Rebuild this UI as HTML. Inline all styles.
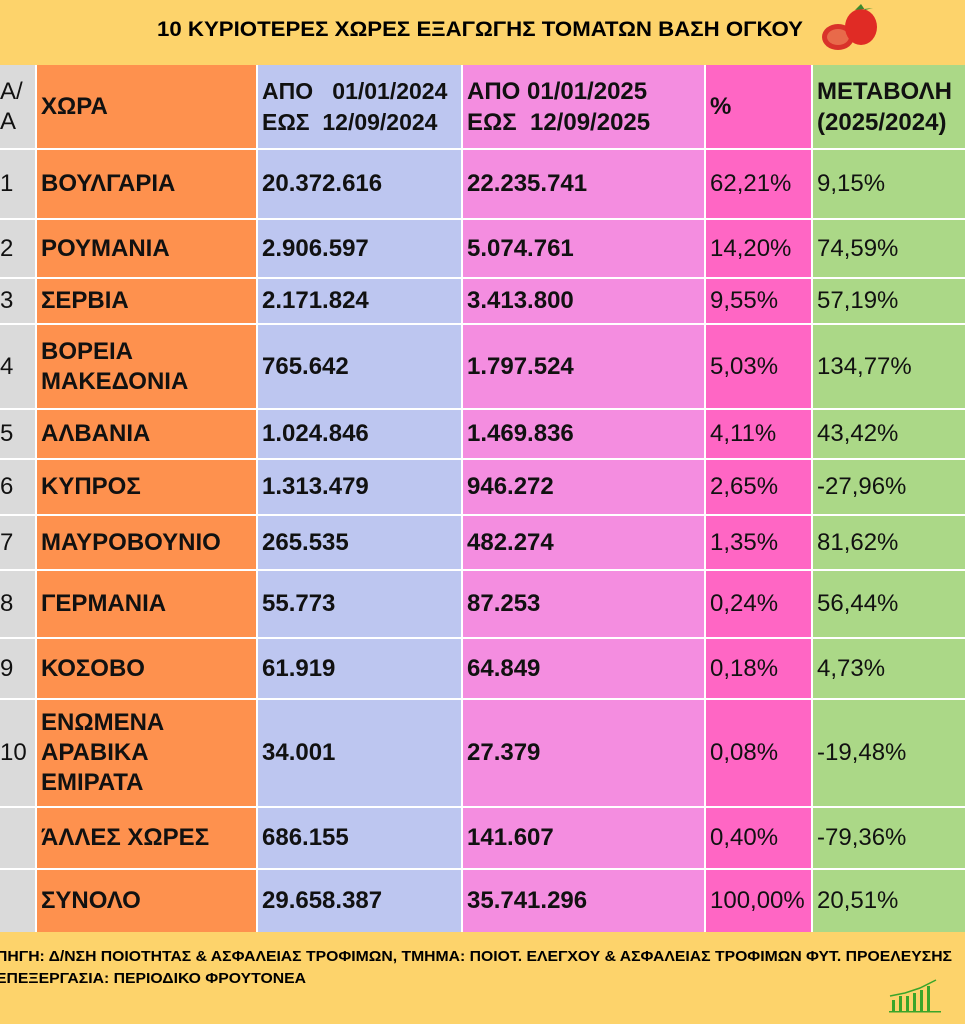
<!DOCTYPE html>
<html><head><meta charset="utf-8"><style>
body{margin:0;width:970px;height:1024px;background:#fff;position:relative;overflow:hidden;font-family:"Liberation Sans",sans-serif;color:#111}
.c{position:absolute;box-sizing:border-box;display:flex;align-items:center;font-size:24px;line-height:30px;white-space:nowrap;overflow:hidden}
.b{font-weight:bold}
</style></head><body>
<div style="position:absolute;left:0;top:0;width:965px;height:65px;background:#FDD36B"></div>
<div style="position:absolute;left:0;top:932px;width:965px;height:92px;background:#FDD36B"></div>
<svg style="position:absolute;left:0;top:0" width="970" height="1024">
<text x="157" y="36" font-family="Liberation Sans" font-weight="bold" font-size="21" textLength="646" lengthAdjust="spacingAndGlyphs">10 ΚΥΡΙΟΤΕΡΕΣ ΧΩΡΕΣ ΕΞΑΓΩΓΗΣ ΤΟΜΑΤΩΝ ΒΑΣΗ ΟΓΚΟΥ</text>
<ellipse cx="838" cy="37" rx="16" ry="13" fill="#d9332a"/><ellipse cx="838" cy="37" rx="11" ry="8" fill="#e86a4a"/>
<ellipse cx="861" cy="27" rx="16" ry="18" fill="#e02b25"/><path d="M855 10 l6 -6 l4 6 l8 -2 z" fill="#3b8a2e"/>
<text x="-4" y="961" font-family="Liberation Sans" font-weight="bold" font-size="15" textLength="956" lengthAdjust="spacingAndGlyphs">ΠΗΓΗ: Δ/ΝΣΗ ΠΟΙΟΤΗΤΑΣ &amp; ΑΣΦΑΛΕΙΑΣ ΤΡΟΦΙΜΩΝ, ΤΜΗΜΑ: ΠΟΙΟΤ. ΕΛΕΓΧΟΥ &amp; ΑΣΦΑΛΕΙΑΣ ΤΡΟΦΙΜΩΝ ΦΥΤ. ΠΡΟΕΛΕΥΣΗΣ</text>
<text x="-4" y="983" font-family="Liberation Sans" font-weight="bold" font-size="15" textLength="310" lengthAdjust="spacingAndGlyphs">ΕΠΕΞΕΡΓΑΣΙΑ: ΠΕΡΙΟΔΙΚΟ ΦΡΟΥΤΟΝΕΑ</text>
<g fill="#3aa52a"><rect x="892" y="1000" width="3" height="11"/><rect x="899" y="996" width="3" height="15"/><rect x="906" y="996" width="3" height="15"/><rect x="913" y="993" width="3" height="18"/><rect x="920" y="990" width="3" height="21"/><rect x="927" y="986" width="3" height="25"/><rect x="889" y="1011" width="52" height="1.5"/></g>
<polyline points="890,996 905,993 920,988 936,980" stroke="#3aa52a" stroke-width="1.5" fill="none"/>
</svg>
<div id="t"></div>
<script>
var cols=[[0,37,'#DADADA'],[37,258,'#FE914E'],[258,463,'#BDC6F0'],[463,706,'#F48DE0'],[706,813,'#FF66C4'],[813,965,'#ABD887']];
var rows=[[65,148],[150,218],[220,277],[279,323],[325,408],[410,458],[460,514],[516,569],[571,637],[639,698],[700,806],[808,868],[870,932]];
var data=[
['Α/<br>Α','ΧΩΡΑ','ΑΠΟ&nbsp;&nbsp; 01/01/2024<br>ΕΩΣ&nbsp; 12/09/2024','ΑΠΟ 01/01/2025<br>ΕΩΣ&nbsp; 12/09/2025','%','ΜΕΤΑΒΟΛΗ<br>(2025/2024)'],
['1','ΒΟΥΛΓΑΡΙΑ','20.372.616','22.235.741','62,21%','9,15%'],
['2','ΡΟΥΜΑΝΙΑ','2.906.597','5.074.761','14,20%','74,59%'],
['3','ΣΕΡΒΙΑ','2.171.824','3.413.800','9,55%','57,19%'],
['4','ΒΟΡΕΙΑ<br>ΜΑΚΕΔΟΝΙΑ','765.642','1.797.524','5,03%','134,77%'],
['5','ΑΛΒΑΝΙΑ','1.024.846','1.469.836','4,11%','43,42%'],
['6','ΚΥΠΡΟΣ','1.313.479','946.272','2,65%','-27,96%'],
['7','ΜΑΥΡΟΒΟΥΝΙΟ','265.535','482.274','1,35%','81,62%'],
['8','ΓΕΡΜΑΝΙΑ','55.773','87.253','0,24%','56,44%'],
['9','ΚΟΣΟΒΟ','61.919','64.849','0,18%','4,73%'],
['10','ΕΝΩΜΕΝΑ<br>ΑΡΑΒΙΚΑ<br>ΕΜΙΡΑΤΑ','34.001','27.379','0,08%','-19,48%'],
['','ΆΛΛΕΣ ΧΩΡΕΣ','686.155','141.607','0,40%','-79,36%'],
['','ΣΥΝΟΛΟ','29.658.387','35.741.296','100,00%','20,51%']];
var h='';
rows.forEach(function(r,i){cols.forEach(function(c,j){
var bold=(i==0&&j>0)||j==1||j==2||j==3;
var pad=j==0?0:(j==4||j==5?4:4);
var w=c[1]-c[0]-(j<5?2:0);
var fs=(i==0&&j==2)?'font-size:23px;':'';
h+='<div class="c'+(bold?' b':'')+'" style="'+fs+'left:'+c[0]+'px;top:'+r[0]+'px;width:'+w+'px;height:'+(r[1]-r[0])+'px;background:'+c[2]+';padding-left:'+pad+'px;'+(i==0&&j>0?'line-height:31px;':'')+'">'+(data[i][j])+'</div>';});});
document.getElementById('t').innerHTML=h;
</script>
</body></html>
